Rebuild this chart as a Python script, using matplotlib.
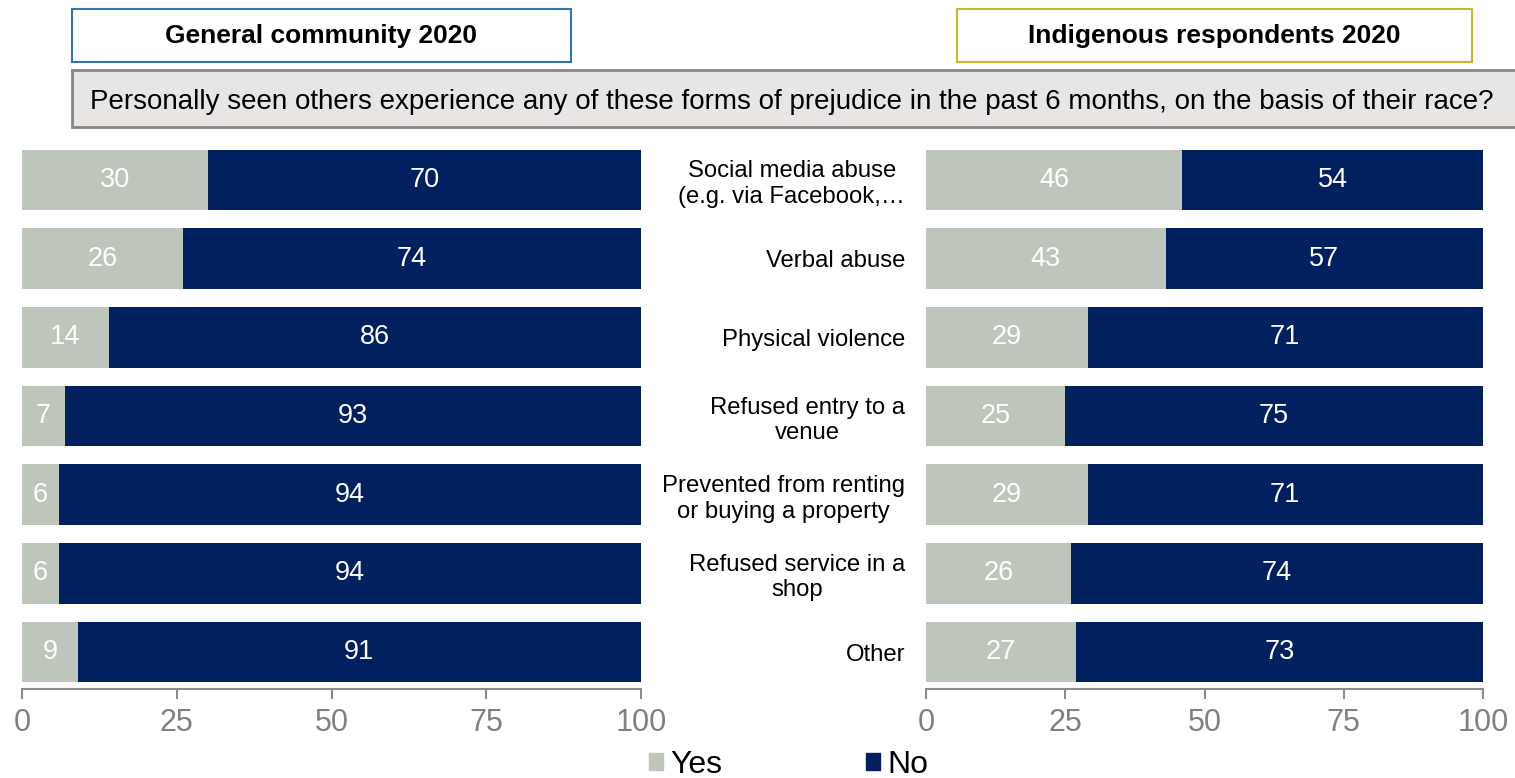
import matplotlib
matplotlib.use('Agg')
import matplotlib.pyplot as plt
from matplotlib.patches import Rectangle, Patch

plt.rcParams['font.family'] = ['Liberation Sans', 'DejaVu Sans']

# data
categories = ['Social media abuse\n(e.g. via Facebook,\u2026', 'Verbal abuse', 'Physical violence',
              'Refused entry to a\nvenue', 'Prevented from renting\nor buying a property',
              'Refused service in a\nshop', 'Other']
general_yes = [30, 26, 14, 7, 6, 6, 9]
general_no = [70, 74, 86, 93, 94, 94, 91]
indig_yes = [46, 43, 29, 25, 29, 26, 27]
indig_no = [54, 57, 71, 75, 71, 74, 73]

yes_color = '#BEC6BB'
no_color = '#00205F'
axis_gray = '#8C8C8C'

fig = plt.figure(figsize=(15.15, 7.78), dpi=100)

ax_l = fig.add_axes([22/1515, 1-689/778, 619/1515, (689-143)/778])
ax_r = fig.add_axes([926/1515, 1-689/778, 557/1515, (689-143)/778])

def draw(ax, yes, no):
    pos = list(range(len(yes)))
    ax.barh(pos, yes, height=0.77, color=yes_color)
    ax.barh(pos, no, left=yes, height=0.77, color=no_color)
    for p, y, n in zip(pos, yes, no):
        ax.text(y / 2, p, str(y), ha='center', va='center', color='white', fontsize=19.5)
        ax.text(y + n / 2, p, str(n), ha='center', va='center', color='white', fontsize=19.5)
    ax.set_xlim(0, 100)
    ax.set_ylim(len(yes) - 1 + 0.47, -0.47)
    ax.set_xticks([0, 25, 50, 75, 100])
    for s in ['top', 'right', 'left']:
        ax.spines[s].set_visible(False)
    ax.spines['bottom'].set_color(axis_gray)
    ax.spines['bottom'].set_linewidth(1.5)
    ax.tick_params(axis='x', colors=axis_gray, labelsize=22, length=7, width=1.5, pad=7)
    ax.tick_params(axis='x', labelcolor='#808080')
    return pos

pos = draw(ax_l, general_yes, general_no)
ax_l.set_yticks([])

pos = draw(ax_r, indig_yes, indig_no)
ax_r.set_yticks(pos)
ax_r.set_yticklabels(categories, fontsize=17.2, color='black', multialignment='center')
ax_r.tick_params(axis='y', length=0, pad=15)

# header boxes
fig.patches.append(Rectangle((72/1515, 1-62/778), 499/1515, 53/778, transform=fig.transFigure,
                             facecolor='white', edgecolor='#2E75B6', linewidth=1.5))
fig.text(321/1515, 1-36/778, 'General community 2020', ha='center', va='center',
         fontsize=19, fontweight='bold')
fig.patches.append(Rectangle((957/1515, 1-62/778), 515/1515, 53/778, transform=fig.transFigure,
                             facecolor='white', edgecolor='#C9B62A', linewidth=1.5))
fig.text(1214/1515, 1-36/778, 'Indigenous respondents 2020', ha='center', va='center',
         fontsize=19, fontweight='bold')

# question box
fig.patches.append(Rectangle((72/1515, 1-127/778), 1460/1515, 57/778, transform=fig.transFigure,
                             facecolor='#E7E6E5', edgecolor='#8A8583', linewidth=2))
fig.text(90/1515, 1-102/778,
         'Personally seen others experience any of these forms of prejudice in the past 6 months, on the basis of their race?',
         ha='left', va='center', fontsize=20)

handles = [Patch(color=yes_color), Patch(color=no_color)]
fig.legend(handles, ['Yes', 'No'], loc='center', bbox_to_anchor=(789/1515, 1-765/778), ncol=2,
           frameon=False, fontsize=23, handlelength=0.42, handleheight=0.42, handletextpad=0.25,
           columnspacing=4.5, borderpad=0)

fig.savefig('out.png', dpi=100)
